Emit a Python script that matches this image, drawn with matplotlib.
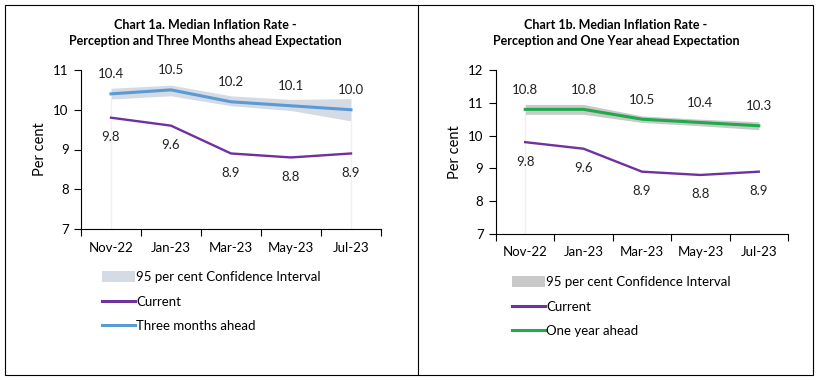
import matplotlib.pyplot as plt
from matplotlib.patches import Patch, Rectangle
from matplotlib.lines import Line2D

plt.rcParams['font.family'] = ['Lato', 'DejaVu Sans']

months = ["Nov-22", "Jan-23", "Mar-23", "May-23", "Jul-23"]
current = [9.8, 9.6, 8.9, 8.8, 8.9]

three_months = [10.4, 10.5, 10.2, 10.1, 10.0]
three_lo = [10.27, 10.35, 10.10, 9.98, 9.72]
three_hi = [10.54, 10.62, 10.35, 10.26, 10.28]

one_year = [10.8, 10.8, 10.5, 10.4, 10.3]
one_lo = [10.65, 10.65, 10.40, 10.30, 10.18]
one_hi = [10.95, 10.95, 10.60, 10.50, 10.42]

purple = "#7030a0"
blue = "#5b9bd5"
green = "#1faa4b"

fig = plt.figure(figsize=(8.18, 3.80), dpi=100)

# outer frame and divider
fig.patches.append(Rectangle((5 / 818, 5 / 380), 808 / 818, 370 / 380, transform=fig.transFigure,
                             fill=False, edgecolor="black", linewidth=0.8))
fig.add_artist(Line2D([418 / 818, 418 / 818], [5 / 380, 375 / 380], transform=fig.transFigure,
                      color="black", linewidth=0.8))


def draw_panel(rect, title, exp, lo, hi, exp_color, band_color, ylim, exp_label, leg_xy, title_x, faint):
    ax = fig.add_axes(rect)
    x = list(range(len(months)))
    ax.fill_between(x, lo, hi, color=band_color, linewidth=0, zorder=1)
    # faint drop lines left by the stacked area in the original
    for i in faint:
        ax.vlines(x[i], ylim[0], lo[i], color="#f0f0f0", linewidth=1, zorder=0)
    ax.plot(x, current, color=purple, linewidth=1.7, zorder=3)
    ax.plot(x, exp, color=exp_color, linewidth=2.2, zorder=3)
    for i in range(len(months)):
        ax.annotate(f"{exp[i]:.1f}", (x[i], exp[i]), xytext=(0, 14), textcoords="offset points",
                    ha="center", va="center", fontsize=9.5, color="#222222")
        ax.annotate(f"{current[i]:.1f}", (x[i], current[i]), xytext=(0, -14), textcoords="offset points",
                    ha="center", va="center", fontsize=9.5, color="#222222")
    ax.set_xlim(-0.5, len(months) - 0.5)
    ax.set_ylim(*ylim)
    ax.set_yticks(range(ylim[0], ylim[1] + 1))
    ax.set_xticks([i - 0.5 for i in range(len(months) + 1)])
    ax.set_xticklabels([])
    ax.set_xticks(x, minor=True)
    ax.set_xticklabels(months, minor=True, fontsize=9.5)
    ax.tick_params(axis="x", which="minor", length=0, pad=9)
    ax.tick_params(axis="x", which="major", length=5, direction="out")
    ax.tick_params(axis="y", length=5, labelsize=9.5, pad=4)
    for s in ["top", "right"]:
        ax.spines[s].set_visible(False)
    ax.set_ylabel("Per cent", fontsize=10.5)
    fig.text(title_x, 1 - 33 / 380, title, ha="center", va="center", fontsize=9,
             fontweight="bold", linespacing=1.35)
    handles = [Patch(facecolor=band_color, edgecolor="none"),
               Line2D([], [], color=purple, linewidth=2.2),
               Line2D([], [], color=exp_color, linewidth=2.2)]
    fig.legend(handles, ["95 per cent Confidence Interval", "Current", exp_label],
               loc="upper left", bbox_to_anchor=leg_xy, frameon=False, fontsize=9.5,
               handlelength=2.5, handleheight=0.9, handletextpad=0.1, labelspacing=0.95,
               borderaxespad=0, borderpad=0)
    return ax


draw_panel([81 / 818, 1 - 229 / 380, 300 / 818, 159 / 380],
           "Chart 1a. Median Inflation Rate -\nPerception and Three Months ahead Expectation",
           three_months, three_lo, three_hi, blue, "#d5dbe5", (7, 11), "Three months ahead",
           (102 / 818, 1 - 271 / 380), 205 / 818, [0, 4])

draw_panel([496 / 818, 1 - 234 / 380, 292 / 818, 164 / 380],
           "Chart 1b. Median Inflation Rate -\nPerception and One Year ahead Expectation",
           one_year, one_lo, one_hi, green, "#c9c9c9", (7, 12), "One year ahead",
           (512 / 818, 1 - 276 / 380), 616 / 818, [0])

fig.savefig("out.png", dpi=100)
